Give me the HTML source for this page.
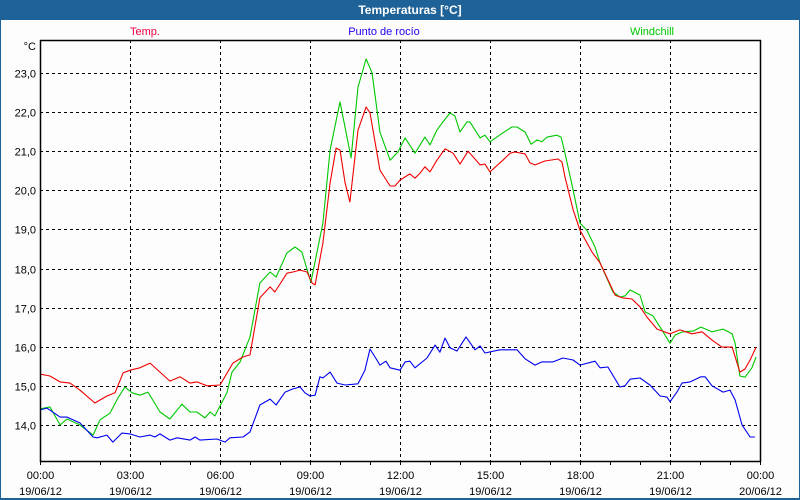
<!DOCTYPE html>
<html><head><meta charset="utf-8"><style>
html,body{margin:0;padding:0;background:#fff}
#wrap{position:relative;width:800px;height:500px;overflow:hidden;background:#fcfdfc;font-family:"Liberation Sans",sans-serif}
#titlebar{position:absolute;left:0;top:0;width:800px;height:20px;background:#1e6297;color:#fff;font-weight:bold;font-size:12px;line-height:20px;text-align:center;text-indent:20px}
#frameL,#frameR,#frameB{position:absolute;background:#1e6297}
svg{position:absolute;left:0;top:0}
</style></head><body>
<div id="wrap">
<div id="titlebar">Temperaturas [°C]</div>
<div id="frameL" style="left:0;top:0;width:1px;height:500px"></div>
<div id="frameR" style="right:0;top:0;width:1px;height:500px"></div>
<div id="frameB" style="left:0;bottom:0;width:800px;height:2px"></div>
<svg id="chart" width="800" height="500"></svg>
</div>
<script>
const yTicks=[14,15,16,17,18,19,20,21,22,23];
const yTickLabels=["14,0","15,0","16,0","17,0","18,0","19,0","20,0","21,0","22,0","23,0"];
const xTicks=[0,3,6,9,12,15,18,21,24];
const xTimeLabels=["00:00","03:00","06:00","09:00","12:00","15:00","18:00","21:00","00:00"];
const xDateLabels=["19/06/12","19/06/12","19/06/12","19/06/12","19/06/12","19/06/12","19/06/12","19/06/12","20/06/12"];
const seriesNames=["Temp.","Punto de rocío","Windchill"];

const tempHours=[0,.33,.67,1,1.33,1.83,2.23,2.5,2.77,3,3.33,3.67,4.33,4.67,5,5.23,5.57,6,6.43,6.77,7,7.33,7.67,7.83,8.23,8.43,8.67,8.9,9.07,9.17,9.43,9.67,9.87,10,10.17,10.33,10.6,10.87,11,11.33,11.67,11.83,12,12.33,12.5,12.67,12.83,13,13.23,13.5,13.77,14,14.27,14.67,14.83,15,15.43,15.67,15.83,16.17,16.33,16.5,16.83,17.27,17.4,17.5,17.77,18,18.4,18.67,19.17,19.4,19.73,20,20.23,20.57,21,21.33,21.73,22.07,22.4,22.73,23.07,23.33,23.5,23.67,23.87];
const tempValues=[15.30,15.25,15.10,15.07,14.89,14.56,14.74,14.82,15.33,15.40,15.46,15.58,15.12,15.23,15.07,15.10,15.00,15.02,15.58,15.74,15.79,17.25,17.53,17.40,17.88,17.91,17.96,17.91,17.63,17.58,18.65,20.19,21.08,21.03,20.19,19.70,21.54,22.13,21.98,20.52,20.11,20.11,20.26,20.42,20.31,20.44,20.60,20.47,20.77,21.06,20.95,20.67,21.00,20.65,20.67,20.47,20.77,20.95,20.98,20.93,20.70,20.65,20.75,20.80,20.72,20.34,19.50,18.98,18.42,18.14,17.32,17.25,17.22,17.02,16.76,16.45,16.33,16.43,16.33,16.38,16.17,15.99,15.99,15.35,15.43,15.66,15.99];

const dewHours=[0,.23,.67,.9,1.33,1.77,1.9,2.23,2.43,2.73,3,3.33,3.67,3.83,4,4.33,4.57,5,5.17,5.33,5.9,6.17,6.33,6.77,7,7.33,7.67,7.87,8.17,8.43,8.67,8.83,9,9.17,9.33,9.43,9.67,9.9,10.17,10.6,10.83,11,11.23,11.33,11.53,11.67,12,12.17,12.33,12.5,12.9,13.17,13.33,13.5,13.67,13.9,14.2,14.5,14.67,14.83,15.33,15.9,16.17,16.5,16.73,17.1,17.43,17.77,18,18.5,18.67,18.93,19.33,19.5,19.67,20,20.33,20.67,20.9,21,21.23,21.4,21.67,22.03,22.17,22.4,22.77,23,23.17,23.4,23.67,23.83];
const dewValues=[14.38,14.43,14.20,14.20,14.05,13.69,13.67,13.74,13.56,13.79,13.77,13.69,13.74,13.69,13.77,13.61,13.67,13.61,13.69,13.61,13.64,13.56,13.67,13.69,13.82,14.51,14.66,14.51,14.84,14.92,14.97,14.82,14.74,14.76,15.23,15.20,15.35,15.07,15.02,15.05,15.40,15.94,15.66,15.53,15.63,15.46,15.40,15.61,15.63,15.46,15.71,16.04,15.86,16.22,15.97,15.89,16.25,15.92,16.02,15.84,15.92,15.92,15.69,15.53,15.61,15.61,15.71,15.66,15.53,15.63,15.46,15.48,14.97,15.00,15.17,15.20,15.02,14.74,14.71,14.59,14.84,15.07,15.10,15.23,15.23,15.00,14.84,14.89,14.64,14.00,13.69,13.69];

const chillHours=[0,.33,.67,.9,1.33,1.77,2,2.33,2.6,2.83,3.07,3.33,3.6,4,4.33,4.73,5,5.23,5.5,5.67,5.83,6.23,6.4,6.67,7,7.33,7.67,7.87,8.23,8.5,8.73,9.03,9.43,9.67,10,10.37,10.6,10.87,11.07,11.33,11.67,11.93,12.17,12.5,12.83,13,13.23,13.43,13.67,13.83,14,14.23,14.33,14.67,14.83,15,15.43,15.73,15.9,16.17,16.37,16.57,16.73,16.9,17.23,17.37,17.5,17.77,18,18.23,18.5,18.67,19.1,19.33,19.5,19.67,20,20.17,20.43,20.73,21,21.17,21.43,21.77,22.03,22.4,22.77,23.07,23.17,23.33,23.5,23.73,23.87];
const chillValues=[14.41,14.46,14.00,14.15,14.00,13.74,14.13,14.30,14.69,14.97,14.82,14.76,14.84,14.33,14.15,14.53,14.33,14.33,14.18,14.33,14.23,14.82,15.35,15.61,16.25,17.63,17.91,17.78,18.40,18.55,18.42,17.65,19.16,21.03,22.26,20.83,22.64,23.36,23.00,21.49,20.77,20.98,21.34,20.95,21.36,21.16,21.54,21.75,21.98,21.90,21.49,21.75,21.75,21.34,21.41,21.24,21.47,21.62,21.62,21.49,21.18,21.29,21.24,21.36,21.41,21.36,20.95,20.01,19.16,18.98,18.55,18.14,17.40,17.27,17.30,17.45,17.32,16.89,16.79,16.43,16.09,16.30,16.38,16.40,16.50,16.38,16.45,16.33,16.09,15.25,15.22,15.46,15.74];

const NS="http://www.w3.org/2000/svg";
const svg=document.getElementById('chart');
const L=40,R=760,T=40,B=461;
function xScale(h){return L+(h/24)*(R-L);}
function yScale(v){return 73+(23-v)*39.1;}
function mk(tag,attrs,parent){const e=document.createElementNS(NS,tag);for(const k in attrs)e.setAttribute(k,attrs[k]);(parent||svg).appendChild(e);return e;}

// grid
yTicks.forEach((v,i)=>{
  const y=Math.round(yScale(v))+0.5;
  const g=mk('line',{x1:L,x2:R,y1:y,y2:y,stroke:'#000','stroke-width':1,'stroke-dasharray':'3,3'});
  
  
  const t=mk('text',{x:36,y:y+4,'text-anchor':'end','font-size':11,fill:'#000','font-family':'Liberation Sans, sans-serif'});
  t.textContent=yTickLabels[i];
  
  
});
xTicks.forEach((h,i)=>{
  const x=Math.round(xScale(h))+0.5;
  if(h>0&&h<24){
    const g=mk('line',{x1:x,x2:x,y1:T,y2:B,stroke:'#000','stroke-width':1,'stroke-dasharray':'3,3'});
    
    
  }
  const t1=mk('text',{x:x,y:479,'text-anchor':'middle','font-size':11,fill:'#000','font-family':'Liberation Sans, sans-serif'});
  t1.textContent=xTimeLabels[i];
  
  
  const t2=mk('text',{x:x,y:495,'text-anchor':'middle','font-size':11,fill:'#000','font-family':'Liberation Sans, sans-serif'});
  t2.textContent=xDateLabels[i];
  
  
});
for(let h=0;h<=24;h++){
  const x=Math.round(xScale(h))+0.5;
  const tk=mk('line',{x1:x,x2:x,y1:B,y2:B+4,stroke:'#000','stroke-width':1});
  
  
}
// series
function drawSeries(hours,vals,color,name){
  const pts=hours.map((h,i)=>xScale(h).toFixed(1)+','+yScale(vals[i]).toFixed(1)).join(' ');
  const p=mk('polyline',{points:pts,fill:'none',stroke:color,'stroke-width':1.1,'stroke-linejoin':'round'});
  
  
}
drawSeries(chillHours,chillValues,'#00c800','windchill-line');
drawSeries(tempHours,tempValues,'#f00000','temp-line');
drawSeries(dewHours,dewValues,'#0000f0','dew-point-line');
// axes frame
const ax=mk('path',{d:`M${L+0.5},${T} V${B+0.5} H${R+0.5} V${T}`,fill:'none',stroke:'#000','stroke-width':1.5});


const tl=mk('line',{x1:L,x2:R+1,y1:T+0.5,y2:T+0.5,stroke:'#000','stroke-width':1.5});


// unit label
const u=mk('text',{x:36,y:50,'text-anchor':'end','font-size':11,fill:'#000','font-family':'Liberation Sans, sans-serif'});
u.textContent='°C';


// legend
const legX=[145,384,652],legC=['#f00040','#2000f0','#00c800'];
seriesNames.forEach((n,i)=>{
  const t=mk('text',{x:legX[i],y:35,'text-anchor':'middle','font-size':11,fill:legC[i],'font-family':'Liberation Sans, sans-serif'});
  t.textContent=n;
  
  
});
</script>
</body></html>
